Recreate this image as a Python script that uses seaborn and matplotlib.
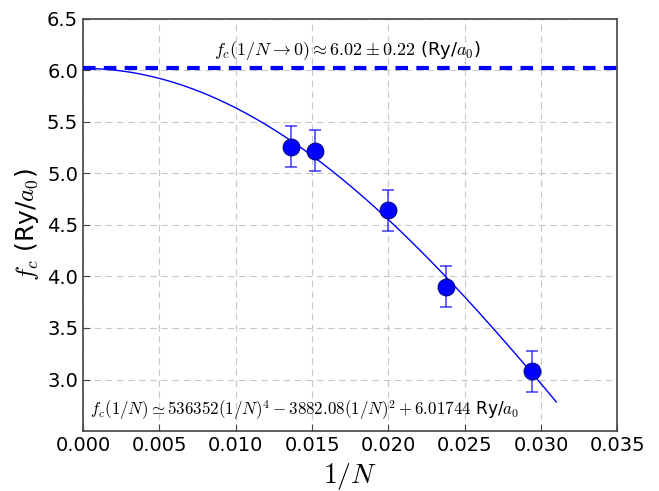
import numpy as np
import pandas as pd
import matplotlib
matplotlib.use("Agg")
import matplotlib.pyplot as plt
import seaborn as sns

# Data
inv_n = [0.0136, 0.0152, 0.0200, 0.0238, 0.0294]
fc = [5.26, 5.22, 4.64, 3.90, 3.08]
fc_err = [0.20, 0.20, 0.20, 0.20, 0.20]
fit_coeffs = [536352.0, 0.0, -3882.08, 0.0, 6.01744]
fit_xmax = 0.031
extrap_value = 6.02
x_ticks = [0.000, 0.005, 0.010, 0.015, 0.020, 0.025, 0.030, 0.035]
y_ticks = [3.0, 3.5, 4.0, 4.5, 5.0, 5.5, 6.0, 6.5]

sns.set_style("whitegrid", {"grid.linestyle": (0, (6, 4)), "grid.color": "#c8c8c8",
                            "axes.edgecolor": "#444444", "xtick.bottom": True, "ytick.left": True,
                            "text.color": "black", "xtick.color": "black", "ytick.color": "black",
                            "axes.labelcolor": "black"})
plt.rcParams["mathtext.fontset"] = "cm"
plt.rcParams["font.family"] = ["DejaVu Sans"]

fig, ax = plt.subplots(figsize=(6.59, 4.91), dpi=100)
fig.subplots_adjust(left=0.126, right=0.937, top=0.962, bottom=0.122)

xs = np.linspace(0, fit_xmax, 300)
fit_df = pd.DataFrame({"x": xs, "y": np.polyval(fit_coeffs, xs)})
sns.lineplot(data=fit_df, x="x", y="y", ax=ax, color="blue", lw=1.0, zorder=3)

ax.axhline(extrap_value, color="blue", lw=3, ls=(0, (3, 2)), zorder=4)

pts = pd.DataFrame({"x": inv_n, "y": fc, "e": fc_err})
ax.errorbar(pts["x"], pts["y"], yerr=pts["e"], fmt="none", ecolor="blue", alpha=0.7,
            elinewidth=1.2, capsize=4, capthick=1.2, zorder=4)
sns.scatterplot(data=pts, x="x", y="y", ax=ax, color="blue", s=150, edgecolor="#000066",
                linewidth=0.6, zorder=5)

ax.set_xlim(0, 0.035)
ax.set_ylim(2.5, 6.5)
ax.set_xticks(x_ticks)
ax.set_xticklabels([f"{t:.3f}" for t in x_ticks])
ax.set_yticks(y_ticks)
ax.set_yticklabels([f"{t:.1f}" for t in y_ticks])
ax.tick_params(axis="both", labelsize=14, direction="in", length=5, color="#444444",
               labelcolor="black")
for s in ax.spines.values():
    s.set_linewidth(1.2)

ax.set_xlabel(r"$1/N$", fontsize=20, color="black")
ax.set_ylabel(r"$f_c$ (Ry/$a_0$)", fontsize=18, color="black")

ax.text(0.0173, 6.19, r"$f_c(1/N\rightarrow0)\approx 6.02\pm0.22$ (Ry/$a_0$)",
        fontsize=13, ha="center", va="center", color="black")
ax.text(0.00045, 2.70, r"$f_c(1/N)\simeq 536352(1/N)^4-3882.08(1/N)^2+6.01744$ Ry/$a_0$",
        fontsize=12.2, ha="left", va="center", color="black")

fig.savefig("out.png", dpi=100)
